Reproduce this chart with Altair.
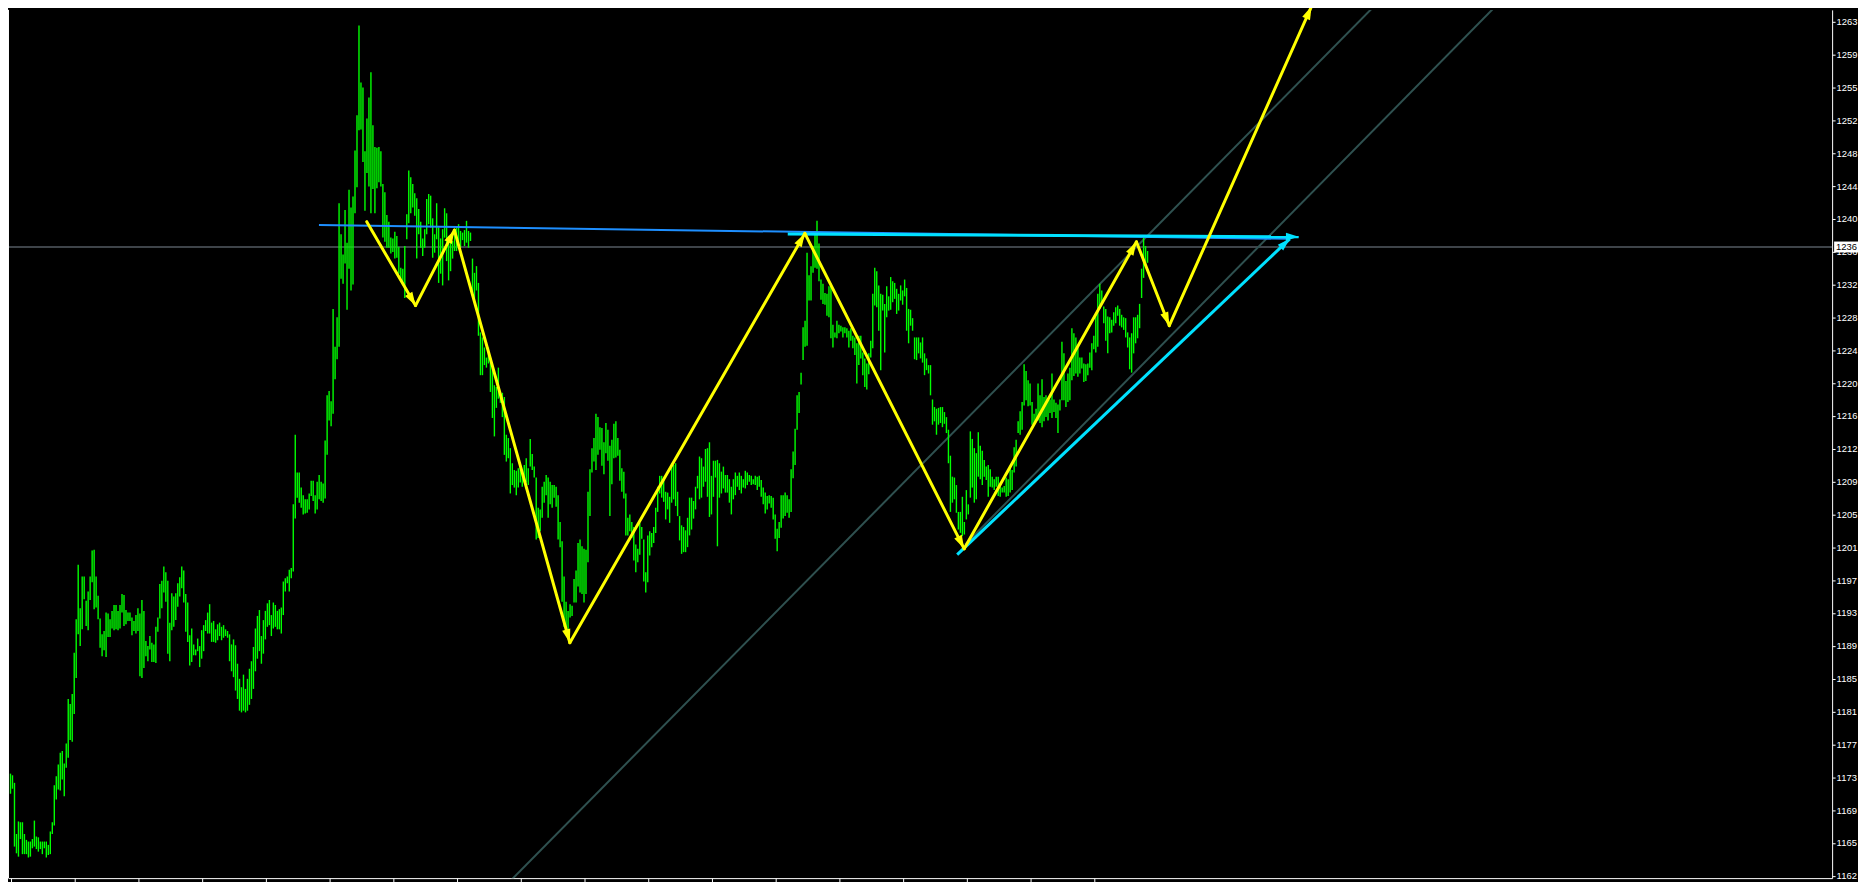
import math
import altair as alt
import pandas as pd

# ---------------- data ----------------
highs = [
    1174.2, 1174.0, 1173.1, 1167.0, 1168.5, 1168.4, 1168.4, 1167.0, 1166.3, 1166.1,
    1166.1, 1166.4, 1168.6, 1166.7, 1166.6, 1166.1, 1166.1, 1166.1, 1166.1, 1165.7,
    1167.3, 1168.4, 1172.8, 1173.9, 1175.3, 1176.7, 1176.9, 1175.4, 1177.8, 1183.1,
    1182.5, 1183.7, 1188.6, 1192.6, 1199.1, 1193.9, 1197.7, 1197.7, 1194.8, 1195.9,
    1197.7, 1200.8, 1200.9, 1197.7, 1195.4, 1192.7, 1190.8, 1191.2, 1193.4, 1193.3,
    1192.6, 1193.6, 1194.3, 1194.3, 1193.6, 1194.3, 1195.6, 1195.5, 1193.7, 1193.4,
    1193.4, 1192.8, 1192.4, 1193.1, 1193.9, 1193.3, 1194.9, 1193.6, 1190.0, 1189.4,
    1190.6, 1189.8, 1189.6, 1191.7, 1192.8, 1196.8, 1197.2, 1198.9, 1198.2, 1197.2,
    1192.2, 1195.7, 1195.3, 1195.7, 1196.9, 1197.6, 1198.9, 1198.4, 1195.6, 1194.6,
    1190.7, 1191.5, 1189.6, 1189.0, 1190.3, 1189.4, 1191.3, 1191.9, 1192.5, 1193.4,
    1194.4, 1192.2, 1192.4, 1191.4, 1192.0, 1192.2, 1191.7, 1191.9, 1191.4, 1191.2,
    1190.8, 1189.6, 1190.2, 1189.5, 1187.3, 1185.5, 1184.5, 1186.0, 1184.3, 1185.5,
    1186.7, 1187.6, 1189.3, 1191.5, 1193.0, 1193.7, 1190.6, 1192.5, 1193.6, 1194.5,
    1194.9, 1193.1, 1194.6, 1194.3, 1193.6, 1193.8, 1194.0, 1197.1, 1197.5, 1197.7,
    1198.5, 1198.7, 1206.3, 1214.6, 1210.1, 1210.1, 1208.3, 1207.4, 1206.9, 1206.9,
    1207.6, 1209.1, 1209.1, 1207.4, 1209.0, 1209.8, 1209.0, 1208.8, 1213.9, 1219.3,
    1219.8, 1218.6, 1229.6, 1225.1, 1228.6, 1242.2, 1238.5, 1236.1, 1241.4, 1237.5,
    1243.8, 1241.7, 1243.0, 1248.5, 1252.7, 1263.4, 1256.6, 1256.0, 1248.4, 1252.3,
    1254.8, 1257.8, 1251.5, 1248.9, 1248.8, 1248.9, 1248.4, 1244.5, 1243.5, 1240.8,
    1240.0, 1238.1, 1238.0, 1238.8, 1238.3, 1237.0, 1234.5, 1234.4, 1237.1, 1240.9,
    1246.1, 1245.3, 1244.5, 1243.4, 1242.8, 1241.5, 1240.0, 1238.0, 1239.1, 1242.7,
    1243.3, 1243.1, 1240.4, 1238.5, 1242.2, 1239.3, 1238.0, 1239.1, 1241.6, 1241.0,
    1238.3, 1237.5, 1237.7, 1238.7, 1239.3, 1239.7, 1238.9, 1238.7, 1239.0, 1240.1,
    1238.9, 1238.7, 1235.6, 1233.9, 1234.7, 1232.7, 1226.8, 1226.2, 1225.0, 1223.8,
    1225.0, 1223.8, 1222.6, 1220.5, 1220.3, 1222.6, 1219.7, 1219.6, 1219.1, 1214.6,
    1214.2, 1213.0, 1211.2, 1210.4, 1210.3, 1210.6, 1210.8, 1210.4, 1211.0, 1211.8,
    1210.6, 1214.1, 1212.3, 1210.8, 1209.5, 1205.9, 1205.7, 1208.4, 1209.0, 1209.8,
    1209.5, 1209.0, 1208.6, 1208.6, 1208.4, 1207.4, 1204.2, 1201.9, 1197.7, 1194.7,
    1193.6, 1194.4, 1194.2, 1197.4, 1198.4, 1201.7, 1202.1, 1201.3, 1201.0, 1200.9,
    1207.8, 1210.5, 1213.0, 1214.2, 1217.1, 1216.7, 1215.5, 1215.4, 1213.7, 1216.0,
    1215.2, 1213.3, 1214.0, 1215.9, 1216.2, 1214.2, 1212.8, 1210.6, 1210.2, 1207.6,
    1204.7, 1205.1, 1204.2, 1203.6, 1201.5, 1201.0, 1204.1, 1203.6, 1202.1, 1198.2,
    1202.6, 1203.1, 1202.9, 1203.6, 1205.9, 1208.4, 1209.7, 1209.7, 1209.2, 1207.8,
    1207.7, 1207.2, 1211.2, 1211.0, 1211.2, 1207.8, 1204.9, 1203.8, 1203.6, 1203.2,
    1204.7, 1207.1, 1207.1, 1206.7, 1208.4, 1209.7, 1212.0, 1211.8, 1210.8, 1212.9,
    1213.0, 1213.7, 1209.7, 1211.5, 1211.5, 1211.6, 1211.2, 1210.2, 1210.8, 1209.8,
    1209.8, 1209.3, 1208.4, 1209.3, 1210.1, 1209.7, 1210.1, 1209.7, 1209.3, 1210.3,
    1210.1, 1209.8, 1209.7, 1209.3, 1209.7, 1209.6, 1209.7, 1209.2, 1208.3, 1207.7,
    1207.3, 1207.4, 1207.3, 1207.1, 1205.1, 1203.4, 1204.2, 1207.4, 1207.4, 1207.7,
    1207.4, 1206.9, 1210.5, 1212.6, 1215.3, 1219.3, 1219.7, 1222.0, 1227.4, 1228.2,
    1236.3, 1233.6, 1234.7, 1237.1, 1238.9, 1240.1, 1237.4, 1233.1, 1232.6, 1231.5,
    1231.4, 1232.3, 1232.6, 1227.7, 1226.8, 1228.2, 1227.7, 1227.6, 1227.4, 1227.4,
    1227.3, 1227.0, 1227.3, 1226.4, 1226.2, 1225.5, 1226.4, 1226.4, 1224.4, 1223.7,
    1223.1, 1224.3, 1225.8, 1231.4, 1234.5, 1234.1, 1232.4, 1231.4, 1231.3, 1230.2,
    1232.3, 1231.1, 1233.4, 1232.9, 1232.7, 1232.0, 1231.4, 1232.4, 1231.8, 1233.1,
    1232.1, 1229.6, 1229.5, 1228.5, 1226.2, 1226.2, 1226.2, 1225.6, 1226.2, 1224.3,
    1223.7, 1222.9, 1222.9, 1218.8, 1217.9, 1217.7, 1217.8, 1217.9, 1217.9, 1217.3,
    1216.7, 1215.2, 1212.1, 1209.6, 1209.5, 1208.6, 1205.4, 1205.4, 1207.2, 1204.2,
    1208.0, 1206.3, 1215.0, 1214.1, 1213.0, 1212.4, 1214.9, 1213.3, 1212.7, 1211.6,
    1210.8, 1211.0, 1210.5, 1209.6, 1209.3, 1209.6, 1209.6, 1208.4, 1208.3, 1208.5,
    1209.5, 1209.3, 1210.9, 1210.4, 1213.1, 1214.0, 1216.2, 1217.4, 1218.5, 1223.0,
    1222.2, 1221.1, 1220.7, 1218.5, 1217.1, 1217.7, 1220.7, 1219.3, 1221.2, 1219.1,
    1219.3, 1218.7, 1218.8, 1221.9, 1218.8, 1218.4, 1218.2, 1218.8, 1225.7, 1224.3,
    1221.0, 1221.9, 1222.6, 1227.3, 1226.7, 1226.2, 1225.0, 1223.8, 1223.8, 1223.1,
    1223.0, 1223.1, 1224.4, 1225.5, 1226.4, 1229.0, 1231.4, 1232.6, 1231.8, 1229.9,
    1229.6, 1228.7, 1228.6, 1228.3, 1229.2, 1229.8, 1230.0, 1229.6, 1228.9, 1228.6,
    1228.5, 1226.8, 1226.2, 1226.7, 1228.6, 1228.6, 1228.9, 1230.2, 1234.4, 1238.1,
    1237.1, 1236.5,
]
lows = [
    1171.8, 1172.4, 1165.5, 1164.7, 1164.3, 1166.4, 1164.6, 1164.6, 1164.6, 1164.2,
    1164.3, 1165.3, 1165.5, 1165.2, 1164.9, 1165.2, 1164.6, 1165.3, 1164.2, 1164.5,
    1164.6, 1167.0, 1168.0, 1171.1, 1172.3, 1172.2, 1173.5, 1171.5, 1174.9, 1176.1,
    1178.2, 1178.0, 1181.3, 1185.6, 1190.8, 1189.4, 1191.4, 1195.0, 1191.8, 1191.3,
    1194.9, 1197.0, 1193.8, 1194.0, 1192.6, 1189.2, 1188.2, 1188.9, 1188.1, 1190.5,
    1190.5, 1191.5, 1191.3, 1191.4, 1191.3, 1191.5, 1193.4, 1191.8, 1192.0, 1192.4,
    1192.4, 1190.7, 1191.2, 1190.9, 1191.2, 1185.8, 1185.6, 1186.8, 1188.2, 1187.6,
    1189.0, 1187.5, 1187.5, 1187.4, 1191.1, 1192.7, 1193.9, 1195.8, 1194.7, 1188.5,
    1187.6, 1191.3, 1191.7, 1192.5, 1194.1, 1195.3, 1196.3, 1194.6, 1191.1, 1189.9,
    1187.1, 1187.5, 1188.3, 1188.3, 1188.8, 1186.9, 1187.9, 1188.8, 1191.2, 1190.9,
    1190.9, 1189.9, 1189.9, 1189.8, 1190.1, 1190.6, 1190.1, 1190.4, 1190.6, 1190.4,
    1187.6, 1186.4, 1185.7, 1184.1, 1183.1, 1181.7, 1181.5, 1181.7, 1181.5, 1181.7,
    1182.4, 1183.1, 1184.3, 1186.4, 1187.9, 1188.8, 1187.3, 1188.5, 1190.2, 1191.7,
    1191.9, 1190.6, 1191.5, 1191.7, 1191.4, 1191.4, 1190.9, 1193.1, 1195.9, 1196.9,
    1195.9, 1197.5, 1198.3, 1204.6, 1207.1, 1206.5, 1205.9, 1205.1, 1205.2, 1205.3,
    1205.7, 1207.3, 1206.7, 1205.2, 1205.7, 1206.9, 1206.7, 1206.5, 1207.0, 1212.2,
    1216.3, 1215.6, 1217.1, 1221.2, 1223.6, 1225.1, 1233.2, 1232.6, 1235.0, 1229.5,
    1234.4, 1231.8, 1232.5, 1241.0, 1244.1, 1250.9, 1251.0, 1247.1, 1241.3, 1245.8,
    1244.2, 1241.0, 1243.9, 1241.0, 1244.0, 1244.7, 1244.2, 1238.1, 1237.6, 1236.9,
    1236.9, 1236.2, 1236.4, 1235.6, 1235.7, 1233.8, 1233.2, 1232.7, 1230.9, 1237.9,
    1239.8, 1241.0, 1241.7, 1240.7, 1235.6, 1238.5, 1236.9, 1235.9, 1236.9, 1238.5,
    1239.7, 1239.3, 1235.7, 1236.3, 1237.9, 1232.7, 1233.8, 1232.4, 1238.1, 1235.3,
    1233.0, 1234.1, 1235.6, 1236.5, 1236.5, 1237.5, 1236.9, 1237.8, 1237.1, 1237.5,
    1236.9, 1237.7, 1231.5, 1230.6, 1231.8, 1226.4, 1221.7, 1221.7, 1222.9, 1222.6,
    1223.1, 1219.7, 1216.6, 1214.4, 1217.8, 1218.9, 1218.4, 1216.7, 1212.2, 1211.4,
    1211.8, 1207.6, 1208.6, 1208.3, 1207.4, 1208.3, 1208.9, 1208.4, 1208.9, 1208.9,
    1208.6, 1210.8, 1210.4, 1209.5, 1202.1, 1202.3, 1203.1, 1204.7, 1206.5, 1207.4,
    1204.7, 1206.3, 1205.9, 1207.1, 1206.0, 1202.1, 1201.2, 1194.7, 1191.7, 1191.0,
    1191.2, 1192.8, 1193.0, 1194.6, 1194.6, 1196.5, 1195.8, 1195.6, 1194.6, 1195.6,
    1199.4, 1204.9, 1210.1, 1211.4, 1210.4, 1212.2, 1212.8, 1210.9, 1209.9, 1212.4,
    1211.5, 1204.9, 1208.7, 1211.8, 1211.9, 1212.1, 1209.1, 1207.8, 1207.0, 1202.6,
    1202.6, 1203.1, 1202.3, 1199.6, 1198.2, 1199.4, 1200.3, 1202.2, 1197.1, 1195.8,
    1197.0, 1200.2, 1201.2, 1201.7, 1202.9, 1205.4, 1207.6, 1207.1, 1206.6, 1204.5,
    1205.7, 1204.1, 1206.5, 1206.9, 1206.1, 1204.9, 1202.0, 1200.4, 1200.6, 1200.6,
    1201.2, 1202.6, 1203.3, 1204.6, 1205.7, 1208.2, 1206.9, 1207.1, 1208.4, 1209.0,
    1207.2, 1204.8, 1205.1, 1207.2, 1209.5, 1201.3, 1207.1, 1207.6, 1208.2, 1207.7,
    1207.7, 1206.5, 1205.1, 1206.9, 1207.4, 1208.4, 1208.0, 1207.6, 1208.3, 1208.2,
    1208.6, 1209.0, 1208.6, 1208.7, 1208.6, 1208.0, 1208.4, 1207.2, 1206.3, 1205.2,
    1205.7, 1206.4, 1205.9, 1204.5, 1202.2, 1200.7, 1202.3, 1203.5, 1204.6, 1204.9,
    1205.3, 1204.7, 1205.4, 1209.4, 1211.0, 1215.2, 1217.2, 1220.6, 1223.5, 1225.1,
    1225.2, 1230.6, 1230.6, 1233.9, 1234.5, 1234.4, 1232.9, 1230.7, 1230.2, 1230.1,
    1228.8, 1228.6, 1226.1, 1225.0, 1226.2, 1226.1, 1226.7, 1226.9, 1226.2, 1226.7,
    1226.2, 1225.0, 1225.8, 1224.9, 1224.1, 1220.7, 1222.9, 1223.7, 1221.7, 1220.3,
    1220.0, 1221.8, 1223.8, 1224.9, 1230.0, 1229.8, 1227.0, 1222.3, 1229.4, 1224.4,
    1228.6, 1229.4, 1229.5, 1230.4, 1230.8, 1229.0, 1229.4, 1230.6, 1230.1, 1231.1,
    1227.0, 1225.5, 1227.6, 1227.0, 1223.6, 1223.5, 1224.3, 1223.7, 1223.2, 1221.7,
    1222.3, 1221.9, 1219.3, 1215.8, 1216.2, 1214.6, 1215.8, 1216.0, 1215.5, 1215.9,
    1214.8, 1211.2, 1205.4, 1206.5, 1206.9, 1205.3, 1203.3, 1202.9, 1202.5, 1202.7,
    1204.5, 1205.1, 1207.1, 1208.3, 1206.5, 1206.9, 1209.6, 1209.3, 1208.6, 1209.6,
    1209.2, 1207.2, 1208.4, 1208.3, 1208.0, 1208.4, 1207.3, 1207.2, 1207.7, 1207.7,
    1207.2, 1207.3, 1207.7, 1208.0, 1210.1, 1210.8, 1214.8, 1214.6, 1215.2, 1218.1,
    1218.7, 1218.0, 1218.1, 1215.8, 1215.9, 1216.3, 1216.3, 1216.0, 1215.5, 1216.2,
    1216.7, 1216.3, 1217.2, 1216.6, 1217.3, 1216.6, 1214.8, 1217.5, 1218.7, 1218.7,
    1217.9, 1218.5, 1218.7, 1221.1, 1221.6, 1221.9, 1221.5, 1221.9, 1222.5, 1220.9,
    1221.0, 1221.7, 1222.6, 1222.3, 1224.8, 1224.4, 1225.1, 1229.6, 1230.4, 1227.9,
    1225.8, 1224.3, 1226.7, 1226.8, 1227.6, 1227.9, 1228.8, 1227.6, 1227.4, 1227.1,
    1226.2, 1225.0, 1222.4, 1222.0, 1224.3, 1225.5, 1226.1, 1227.3, 1230.9, 1233.3,
    1234.7, 1235.1,
]

# right price axis ticks (labels shown truncated to 4 digits, as in the terminal)
y_tick_values = [
    1162.03, 1165.945, 1169.86, 1173.775, 1177.69, 1181.605, 1185.52, 1189.435,
    1193.35, 1197.265, 1201.18, 1205.095, 1209.01, 1212.925, 1216.84, 1220.755,
    1224.67, 1228.585, 1232.5, 1236.415, 1240.33, 1244.245, 1248.16, 1252.075,
    1255.99, 1259.905, 1263.82,
]
# time axis ticks (bar numbers)
x_tick_bars = [0, 32, 64, 96, 128, 160, 192, 224, 256, 288, 320, 352, 384, 416,
               448, 480, 512, 544]

current_price = 1236.98

# yellow zig-zag (bar position, price)
zigzag_bar = [178.9, 203.4, 222.9, 280.9, 398.9, 478.9, 565.4, 581.9, 653.4]
zigzag_price = [1240.0, 1230.0, 1239.0, 1189.8, 1238.6, 1201.0, 1237.6, 1227.6, 1265.7]

# drawn lines: bar positions and prices of both ends
blue_line_bar = [154.9, 641.9]
blue_line_price = [1239.6, 1237.95]
cyan_h_bar = [390.3, 646.9]
cyan_h_price = [1238.54, 1238.19]
cyan_d_bar = [475.4, 642.4]
cyan_d_price = [1200.3, 1237.95]
chan_a_bar = [251.4, 686.9]
chan_a_price = [1161.5, 1266.2]
chan_b_bar = [479.3, 747.9]
chan_b_price = [1201.5, 1266.2]

# ---------------- layout ----------------
W, H = 1832, 872
X_DOMAIN = [-1.25, 914.75]
Y_DOMAIN = [1161.74, 1265.25]
px_per_bar = W / (X_DOMAIN[1] - X_DOMAIN[0])
px_per_price = H / (Y_DOMAIN[1] - Y_DOMAIN[0])

xs = alt.Scale(domain=X_DOMAIN, zero=False, nice=False)
ys = alt.Scale(domain=Y_DOMAIN, zero=False, nice=False)

LABEL_FONT = "Liberation Sans"
LABEL_SIZE = 9.5

x_axis = alt.Axis(values=x_tick_bars, labels=False, ticks=True, tickSize=6,
                  tickColor="#ffffff", tickWidth=1, domainColor="#ffffff",
                  domainWidth=1, grid=False, title=None)
y_axis = alt.Axis(orient="right", values=y_tick_values,
                  labelExpr="floor(datum.value)", tickColor="#ffffff", tickSize=3,
                  tickWidth=1, labelColor="#ffffff",
                  labelFont=LABEL_FONT, labelFontSize=LABEL_SIZE,
                  labelPadding=1, labelOverlap=False, labelFlush=False,
                  domainColor="#ffffff", domainWidth=1, grid=False, title=None)


def X(field):
    return alt.X(field, type="quantitative", scale=xs, axis=x_axis)


def Y(field):
    return alt.Y(field, type="quantitative", scale=ys, axis=y_axis)


bars = pd.DataFrame({"bar": list(range(len(highs))), "high": highs, "low": lows})

segs = []
def add_seg(b, p, color, width, name):
    segs.append({"b1": b[0], "b2": b[1], "p1": p[0], "p2": p[1],
                 "color": color, "w": width, "name": name})

add_seg(chan_a_bar, chan_a_price, "#2f5150", 2, "chanA")
add_seg(chan_b_bar, chan_b_price, "#2f5150", 2, "chanB")
seg_bg = pd.DataFrame(segs)
segs = []
add_seg(blue_line_bar, blue_line_price, "#1e8fff", 2, "blue")
add_seg(cyan_h_bar, cyan_h_price, "#00e1ff", 3, "cyanh")
add_seg(cyan_d_bar, cyan_d_price, "#00e1ff", 3, "cyand")
seg_fg = pd.DataFrame(segs)

zz = pd.DataFrame({
    "b1": zigzag_bar[:-1], "b2": zigzag_bar[1:],
    "p1": zigzag_price[:-1], "p2": zigzag_price[1:],
})


def heads(df, color):
    rows = []
    for _, r in df.iterrows():
        dx = (r["b2"] - r["b1"]) * px_per_bar
        dy = -(r["p2"] - r["p1"]) * px_per_price
        ang = math.degrees(math.atan2(dx, -dy)) % 360
        rows.append({"bar": r["b2"], "price": r["p2"], "angle": ang, "color": color})
    return pd.DataFrame(rows)


yellow_heads = heads(zz, "#ffff00")
cyan_heads = heads(seg_fg[seg_fg["name"] != "blue"], "#00e1ff")

ARROW = "M0,0L0.65,2.1L-0.65,2.1Z"

cur = pd.DataFrame({"price": [current_price],
                    "label": [str(int(math.floor(current_price)))]})

price_line = alt.Chart(cur).mark_rule(color="#7d8893", strokeWidth=1).encode(
    y=Y("price"), x=alt.value(0), x2=alt.value(W),
)

bg_lines = alt.Chart(seg_bg).mark_rule(clip=True, strokeWidth=2, color="#2f5150").encode(
    x=X("b1"), x2="b2", y=Y("p1"), y2="p2",
)

bar_layer = alt.Chart(bars).mark_rule(color="#00ff00", strokeWidth=1.4).encode(
    x=X("bar"), y=Y("low"), y2="high",
)

fg_lines = alt.Chart(seg_fg).mark_rule(clip=True, strokeCap="butt").encode(
    x=X("b1"), x2="b2", y=Y("p1"), y2="p2",
    color=alt.Color("color:N", scale=None),
    strokeWidth=alt.StrokeWidth("w:Q", scale=None),
)

cyan_head_layer = alt.Chart(cyan_heads).mark_point(
    shape=ARROW, filled=True, size=150, opacity=1, strokeWidth=0, clip=True
).encode(
    x=X("bar"), y=Y("price"),
    angle=alt.Angle("angle:Q", scale=None),
    color=alt.Color("color:N", scale=None),
)

zz_layer = alt.Chart(zz).mark_rule(color="#ffff00", strokeWidth=3, strokeCap="round").encode(
    x=X("b1"), x2="b2", y=Y("p1"), y2="p2",
)

zz_heads = alt.Chart(yellow_heads).mark_point(
    shape=ARROW, filled=True, size=170, opacity=1, strokeWidth=0
).encode(
    x=X("bar"), y=Y("price"),
    angle=alt.Angle("angle:Q", scale=None),
    color=alt.Color("color:N", scale=None),
)

price_box = alt.Chart(cur).mark_tick(
    color="#ffffff", thickness=11, size=30, orient="horizontal", opacity=1
).encode(
    y=Y("price"), x=alt.value(W + 17),
)

price_text = alt.Chart(cur).mark_text(
    color="#000000", align="left", baseline="middle",
    font=LABEL_FONT, fontSize=LABEL_SIZE
).encode(
    y=Y("price"), x=alt.value(W + 4), text="label:N",
)

left_border = alt.Chart(cur).mark_rule(color="#ffffff", strokeWidth=1).encode(
    x=alt.value(0.5), y=alt.value(0), y2=alt.value(H)
)

chart = alt.layer(
    price_line, bg_lines, bar_layer, fg_lines, cyan_head_layer,
    zz_layer, zz_heads, price_box, price_text, left_border,
).properties(
    width=W, height=H,
    background="#000000",
    padding={"left": 0, "top": 0, "right": 26, "bottom": 2},
    autosize=alt.AutoSizeParams(type="none"),
).configure_view(stroke=None, fill="#000000")

chart.save("out.html", embed_options={"renderer": "svg", "actions": False})
